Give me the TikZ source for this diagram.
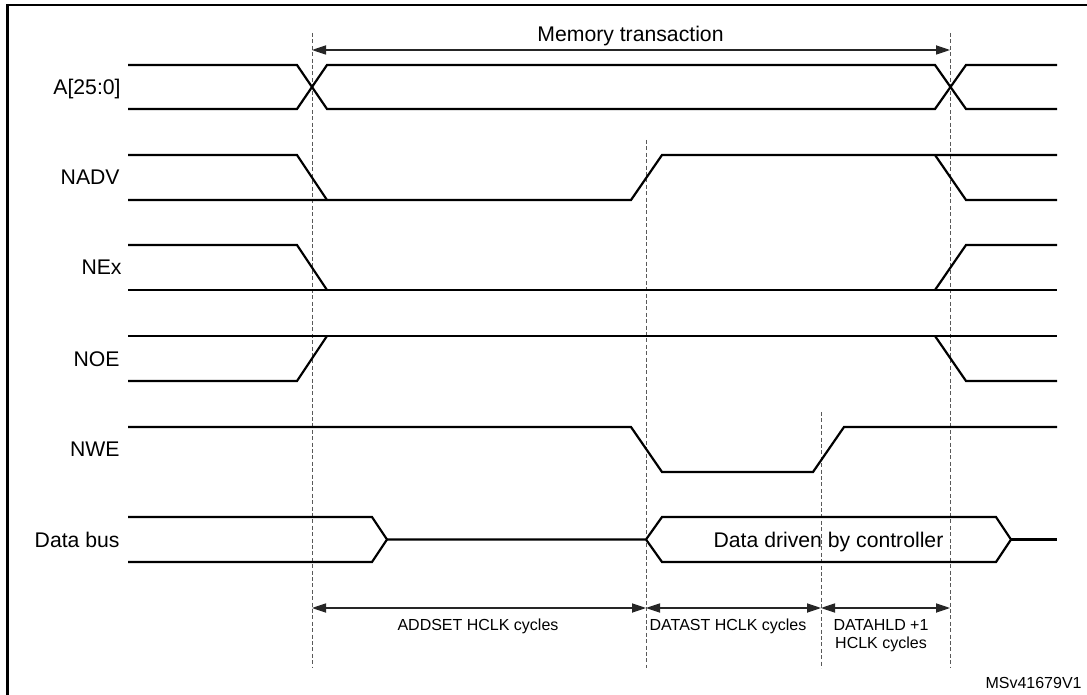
\documentclass[tikz,border=0pt]{standalone}
\usepackage{fontspec}
\setmainfont{Liberation Sans}
\usetikzlibrary{arrows.meta,positioning,calc}

\begin{document}
\begin{tikzpicture}[x=0.5pt,y=-0.5pt,
	sig/.style={line width=1.1pt},
	guide/.style={line width=0.5pt,black!65,dash pattern=on 2pt off 1.2pt},
	span/.style={line width=0.55pt,black!85,{Triangle[length=7pt,width=4.6pt]}-{Triangle[length=7pt,width=4.6pt]}},
	lbl/.style={font=\fontsize{10.6}{12}\selectfont,anchor=base east,inner sep=0pt},
	note/.style={font=\fontsize{8}{9}\selectfont,align=center,anchor=base,inner sep=0pt}]
	\useasboundingbox (0,0) rectangle (1087,695);
	\draw[line width=1.2pt] (7.5,695) -- (7.5,5) -- (1087,5);
	\node[lbl] (a) at (121,95) {A[25:0]};
	\node[lbl] (nadv) at (120,185) {NADV};
	\node[lbl] (nex) at (122,275) {NEx};
	\node[lbl] (noe) at (120,366) {NOE};
	\node[lbl] (nwe) at (120,456) {NWE};
	\node[lbl] (bus) at (120,547) {Data bus};
	\coordinate (t1) at (312,33); \coordinate (b1) at (312,668);
	\coordinate (t2) at (646,140); \coordinate (b2) at (646,668);
	\coordinate (t3) at (821,412); \coordinate (b3) at (821,668);
	\coordinate (t4) at (950,33); \coordinate (b4) at (950,668);
	\foreach \i in {1,...,4} \draw[guide] (t\i) -- (b\i);
	\coordinate (m1) at (312,50); \coordinate (m4) at (950,50);
	\draw[span] (m1) -- (m4);
	\node[lbl,anchor=base] (mem) at (630.5,42) {Memory transaction};
	\draw[sig] (128,65) -- (297,65) -- (327,109) -- (935,109) -- (966,65) -- (1057,65);
	\draw[sig] (128,109) -- (297,109) -- (327,65) -- (935,65) -- (966,109) -- (1057,109);
	\draw[sig] (128,200) -- (631,200) -- (662,155) -- (1057,155);
	\draw[sig] (128,155) -- (297,155) -- (327,200);
	\draw[sig] (935,155) -- (966,200) -- (1057,200);
	\draw[sig] (128,290) -- (1057,290);
	\draw[sig] (128,245) -- (297,245) -- (327,290);
	\draw[sig] (935,290) -- (966,245) -- (1057,245);
	\draw[sig] (128,336) -- (1057,336);
	\draw[sig] (128,381) -- (297,381) -- (327,336);
	\draw[sig] (935,336) -- (966,381) -- (1057,381);
	\draw[sig] (128,427) -- (631,427) -- (662,472) -- (813,472) -- (844,427) -- (1057,427);
	\draw[sig] (128,517) -- (372,517) -- (387,539.5) -- (372,562) -- (128,562);
	\draw[sig] (387,539.5) -- (646,539.5) -- (662,517) -- (996,517) -- (1011,539.5) -- (996,562) -- (662,562) -- (646,539.5);
	\draw[sig] (1011,539.5) -- (1057,539.5);
	\node[lbl,anchor=base] (drv) at (828.5,547) {Data driven by controller};
	\coordinate (d1) at (312,608); \coordinate (d2) at (646,608);
	\coordinate (d3) at (821,608); \coordinate (d4) at (950,608);
	\draw[span] (d1) -- (d2);
	\draw[span] (d2) -- (d3);
	\draw[span] (d3) -- (d4);
	\node[note] (addset) at (478,630) {ADDSET HCLK cycles};
	\node[note] (datast) at (728,630) {DATAST HCLK cycles};
	\node[note] (datahld) at (881,648) {DATAHLD +1\\HCLK cycles};
	\node[note,anchor=base east] (ref) at (1082,688) {MSv41679V1};
\end{tikzpicture}
\end{document}
